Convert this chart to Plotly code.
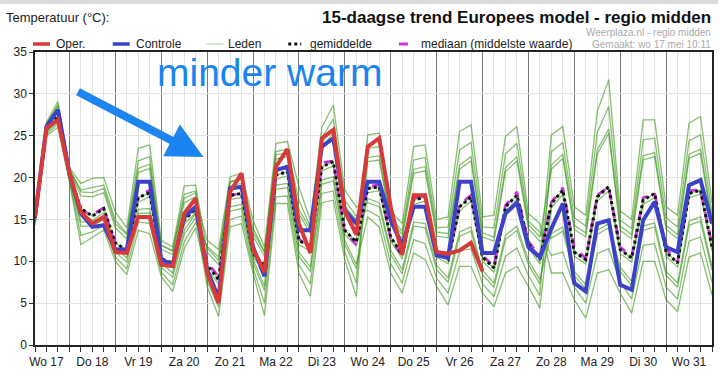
import plotly.graph_objects as go
import pandas as pd

# ---------------- data ----------------
start = "2023-05-17 06:00"
end = "2023-06-01 00:00"
day_labels = ["Wo 17", "Do 18", "Vr 19", "Za 20", "Zo 21", "Ma 22", "Di 23", "Wo 24",
              "Do 25", "Vr 26", "Za 27", "Zo 28", "Ma 29", "Di 30", "Wo 31"]

oper = [15.3, 25.9, 26.9, 20.5, 15.9, 14.5, 15.3, 11.1, 11.0, 15.3,
        15.3, 9.6, 9.4, 15.7, 17.5, 8.6, 5.0, 18.3, 20.5, 11.5,
        8.7, 21.3, 23.4, 14.5, 11.0, 24.7, 25.7, 16.0, 13.2, 23.7,
        24.7, 16.5, 10.8, 17.9, 17.9, 11.1, 10.9, 11.3, 12.2, 8.8]

controle = [15.3, 26.1, 28.1, 20.5, 15.7, 14.1, 14.3, 11.4, 11.4, 19.5,
            19.5, 10.2, 9.6, 15.3, 16.5, 9.0, 5.6, 18.7, 18.9, 11.7,
            8.2, 20.9, 21.3, 13.7, 13.7, 23.7, 24.7, 16.1, 14.5, 19.5,
            19.5, 14.9, 11.9, 16.5, 16.5, 10.7, 10.4, 19.5, 19.5, 11.0,
            11.0, 15.7, 17.0, 11.7, 10.5, 13.9, 16.9, 7.4, 6.4, 14.5,
            14.9, 7.2, 6.6, 14.9, 17.1, 11.7, 11.1, 19.1, 19.7, 14.5]

gemiddelde = [15.2, 25.8, 27.3, 20.3, 16.3, 15.4, 16.3, 12.2, 11.3, 17.6,
              18.2, 10.3, 9.8, 14.9, 16.3, 9.6, 7.8, 17.9, 18.1, 11.0,
              9.4, 20.3, 20.7, 12.5, 11.7, 21.3, 21.9, 13.7, 12.3, 18.7,
              18.9, 12.9, 10.8, 17.3, 17.7, 11.0, 10.2, 16.5, 17.7, 10.5,
              9.2, 16.5, 17.9, 12.1, 10.2, 16.9, 18.5, 11.1, 10.2, 17.7,
              18.9, 11.4, 10.4, 17.3, 18.1, 11.1, 9.8, 18.1, 18.5, 11.7]

mediaan = [15.2, 25.9, 27.0, 20.4, 16.0, 15.6, 16.4, 12.0, 11.2, 17.8,
           18.5, 10.2, 9.6, 15.1, 16.6, 9.9, 8.2, 17.7, 18.3, 11.2,
           9.3, 20.5, 21.2, 12.7, 11.5, 21.8, 22.0, 13.5, 12.0, 18.9,
           19.2, 12.7, 10.6, 17.5, 17.9, 11.2, 10.3, 16.8, 17.9, 10.7,
           9.4, 16.7, 18.3, 12.4, 10.6, 17.1, 18.8, 11.6, 10.4, 17.9,
           18.9, 11.7, 10.6, 17.6, 18.2, 11.5, 10.0, 18.4, 18.6, 12.0]

lid_01 = [15.8, 26.6, 29.1, 21.2, 19.3, 19.9, 20.0, 15.9, 14.0, 23.5, 23.9, 12.5, 11.7, 19.0, 19.1,
          11.1, 9.6, 19.0, 19.3, 13.0, 10.6, 22.2, 22.5, 15.7, 13.3, 23.7, 25.3, 16.1, 14.4, 21.9,
          22.1, 14.5, 12.7, 20.5, 20.8, 13.0, 12.8, 21.0, 22.0, 12.9, 12.4, 20.7, 22.0, 13.9, 12.4,
          12.8, 13.6, 8.3, 6.7, 13.2, 14.0, 8.8, 7.1, 13.7, 14.1, 8.3, 6.9, 14.3, 14.8, 8.9]
lid_02 = [14.3, 25.0, 26.0, 19.5, 12.0, 12.9, 13.7, 10.0, 8.4, 13.7, 13.3, 8.2, 6.4, 11.5, 14.0,
          8.3, 5.6, 16.0, 16.3, 9.8, 6.5, 18.6, 18.8, 10.6, 8.8, 19.2, 19.6, 12.0, 9.1, 18.7,
          18.9, 12.9, 10.8, 17.3, 17.7, 11.0, 10.2, 16.5, 17.7, 10.5, 9.2, 16.5, 17.9, 12.1, 10.2,
          25.1, 26.1, 16.5, 15.5, 27.9, 31.7, 16.0, 15.0, 26.9, 26.9, 16.5, 15.5, 26.5, 27.3, 17.0]
lid_03 = [15.5, 26.2, 28.2, 20.8, 17.8, 17.7, 18.2, 14.0, 12.7, 20.6, 21.1, 11.4, 10.8, 17.0, 17.7,
          12.5, 11.4, 20.1, 20.5, 14.9, 11.7, 24.1, 24.3, 18.9, 14.9, 26.0, 28.7, 18.5, 16.5, 17.0,
          16.5, 10.8, 8.5, 14.2, 14.0, 9.0, 7.5, 13.0, 13.6, 8.4, 6.9, 12.6, 13.7, 9.6, 7.3,
          16.9, 18.5, 11.1, 10.2, 17.7, 18.9, 11.4, 10.4, 17.3, 18.1, 11.1, 9.8, 18.1, 18.5, 11.7]
lid_04 = [14.8, 25.4, 26.7, 19.9, 14.2, 14.2, 15.0, 11.1, 9.9, 15.7, 15.8, 9.3, 8.1, 13.2, 15.2,
          7.0, 3.4, 14.1, 14.5, 8.6, 3.5, 16.9, 16.9, 8.6, 5.8, 17.0, 17.3, 10.2, 5.8, 22.4,
          22.6, 15.0, 13.2, 21.0, 21.3, 13.5, 13.3, 21.5, 22.5, 13.4, 12.9, 21.2, 22.5, 14.4, 12.9,
          21.0, 22.3, 13.8, 12.9, 22.8, 25.3, 13.7, 12.7, 22.1, 22.5, 13.8, 12.7, 22.3, 22.9, 14.4]
lid_05 = [15.2, 25.8, 27.3, 20.3, 16.3, 15.4, 16.3, 12.2, 11.3, 17.6, 18.2, 10.3, 9.8, 14.9, 16.3,
          9.6, 7.8, 17.9, 18.1, 11.0, 9.4, 20.3, 20.7, 12.5, 11.7, 21.3, 21.9, 13.7, 12.3, 25.1,
          25.3, 16.0, 14.5, 23.7, 23.9, 15.0, 15.3, 25.5, 26.3, 15.3, 15.5, 24.9, 26.1, 15.7, 14.5,
          8.6, 8.6, 5.4, 3.2, 8.6, 9.0, 6.2, 3.8, 10.0, 10.0, 5.4, 4.0, 10.5, 11.0, 6.0]
lid_06 = [15.6, 26.4, 28.7, 21.0, 18.3, 18.2, 18.7, 14.5, 13.2, 21.1, 21.6, 11.9, 11.3, 17.5, 18.2,
          8.8, 6.1, 16.5, 16.8, 10.3, 7.0, 19.1, 19.3, 11.1, 9.3, 19.7, 20.1, 12.5, 9.6, 15.3,
          14.1, 8.6, 6.2, 11.0, 10.2, 7.0, 4.8, 9.4, 9.4, 6.2, 4.6, 8.6, 9.4, 7.0, 4.4,
          16.4, 18.0, 10.6, 9.7, 17.2, 18.4, 10.9, 9.9, 16.8, 17.6, 10.6, 9.3, 17.6, 18.0, 11.2]
lid_07 = [15.0, 25.6, 27.2, 20.1, 14.7, 14.7, 15.5, 11.6, 10.4, 16.2, 16.3, 9.8, 8.6, 13.7, 15.7,
          11.6, 10.1, 19.5, 19.8, 13.5, 11.1, 22.7, 23.0, 16.2, 13.8, 24.2, 25.8, 16.6, 14.9, 18.2,
          18.4, 12.4, 10.3, 16.8, 17.2, 10.5, 9.7, 16.0, 17.2, 10.0, 8.7, 16.0, 17.4, 11.6, 9.7,
          21.5, 22.8, 14.3, 13.4, 23.3, 25.8, 14.2, 13.2, 22.6, 23.0, 14.3, 13.2, 22.8, 23.4, 14.9]
lid_08 = [14.9, 25.5, 27.0, 20.0, 15.8, 14.9, 15.8, 11.7, 10.8, 17.1, 17.7, 9.8, 9.3, 14.4, 15.8,
          9.1, 7.3, 17.4, 17.6, 10.5, 8.9, 19.8, 20.2, 12.0, 11.2, 20.8, 21.4, 13.2, 11.8, 17.5,
          17.0, 11.3, 9.0, 14.7, 14.5, 9.5, 8.0, 13.5, 14.1, 8.9, 7.4, 13.1, 14.2, 10.1, 7.8,
          13.3, 14.1, 8.8, 7.2, 13.7, 14.5, 9.3, 7.6, 14.2, 14.6, 8.8, 7.4, 14.8, 15.3, 9.4]
lid_09 = [15.7, 26.4, 28.6, 21.0, 18.5, 18.8, 19.1, 14.9, 13.3, 22.0, 22.5, 11.9, 11.2, 18.0, 18.4,
          7.6, 4.5, 15.0, 15.4, 9.2, 5.0, 17.7, 17.8, 9.6, 7.3, 18.1, 18.4, 11.1, 7.4, 23.5,
          23.7, 15.3, 13.6, 22.1, 22.4, 14.0, 14.1, 23.3, 24.2, 14.1, 14.0, 22.8, 24.1, 14.8, 13.5,
          10.7, 11.1, 6.9, 5.0, 10.9, 11.5, 7.5, 5.5, 11.9, 12.1, 6.9, 5.5, 12.4, 12.9, 7.5]
lid_10 = [14.6, 25.2, 26.4, 19.7, 13.1, 13.5, 14.3, 10.5, 9.1, 14.7, 14.5, 8.7, 7.2, 12.3, 14.6,
          11.8, 10.5, 19.5, 19.9, 14.0, 11.1, 23.1, 23.4, 17.3, 14.1, 24.8, 27.0, 17.3, 15.4, 16.1,
          15.3, 9.7, 7.4, 12.6, 12.1, 8.0, 6.2, 11.2, 11.5, 7.3, 5.8, 10.6, 11.6, 8.3, 5.9,
          23.1, 24.2, 15.2, 14.2, 25.4, 28.5, 14.9, 13.9, 24.5, 24.7, 15.2, 14.1, 24.4, 25.1, 15.7]

leden = [lid_01, lid_02, lid_03, lid_04, lid_05, lid_06, lid_07, lid_08, lid_09, lid_10]

# ---------------- figure ----------------
times = pd.date_range(start, periods=len(controle), freq="6h")
noons = pd.date_range("2023-05-17 12:00", periods=len(day_labels), freq="D")
midnights = pd.date_range("2023-05-18 00:00", periods=len(day_labels) - 1, freq="D")

FONT = "Liberation Sans, Arial, sans-serif"
RED = "#d63a3a"
BLUE = "#3b42c8"
GREEN = "rgba(55,150,20,0.6)"
MAGENTA = "#cc33dd"
ARROW_BLUE = "#1b84f0"

fig = go.Figure()
for lid in leden:
    fig.add_trace(go.Scatter(x=times, y=lid, mode="lines",
                             line=dict(color=GREEN, width=1.3),
                             showlegend=False, hoverinfo="skip"))
fig.add_trace(go.Scatter(x=times, y=mediaan, mode="lines", name="mediaan",
                         line=dict(color=MAGENTA, width=2.5, dash="dash"), showlegend=False))
fig.add_trace(go.Scatter(x=times, y=gemiddelde, mode="lines", name="gemiddelde",
                         line=dict(color="#111111", width=3, dash="dot"), showlegend=False))
fig.add_trace(go.Scatter(x=times, y=controle, mode="lines", name="Controle",
                         line=dict(color=BLUE, width=4), showlegend=False))
# Oper. is drawn on the overlaying x axis (same range) so it sits on top and carries the day labels
fig.add_trace(go.Scatter(x=times[:len(oper)], y=oper, mode="lines", name="Oper.",
                         xaxis="x2", line=dict(color=RED, width=4), showlegend=False))

L, R, T, B = 35, 6, 52, 41
W, H = 720, 386
PW, PH = W - L - R, H - T - B


def px(xp):
    return (xp - L) / PW


def py(yp):
    return (H - B - yp) / PH


annotations = [
    dict(text="Temperatuur (°C):", x=px(4), y=py(17), xanchor="left", yanchor="middle",
         font=dict(size=13, color="#222")),
    dict(text="<b>15-daagse trend Europees model - regio midden</b>", x=px(715), y=py(17),
         xanchor="right", yanchor="middle", font=dict(size=17, color="#111")),
    dict(text="Weerplaza.nl - regio midden", x=px(715), y=py(33), xanchor="right",
         yanchor="middle", font=dict(size=10, color="#aaaaaa")),
    dict(text="Gemaakt: wo 17 mei 10:11", x=px(715), y=py(44), xanchor="right",
         yanchor="middle", font=dict(size=10, color="#aaaaaa")),
    dict(text="minder warm", x=px(270), y=py(73), xanchor="center", yanchor="middle",
         font=dict(size=39, color=ARROW_BLUE)),
    dict(text="", x=px(204), y=py(157), showarrow=True, ax=77 - 204, ay=91 - 157,
         axref="pixel", ayref="pixel", arrowhead=2, arrowsize=0.9, arrowwidth=8,
         arrowcolor=ARROW_BLUE),
]

legend_items = [
    ("Oper.", 33, 50, 54, dict(color=RED, width=3.5)),
    ("Controle", 113, 130, 134, dict(color=BLUE, width=3.5)),
    ("Leden", 207, 224, 227, dict(color="#c4e0bc", width=1.5)),
    ("gemiddelde", 289, 302, 309, dict(color="#111", width=3, dash="dot")),
    ("mediaan (middelste waarde)", 400, 413, 420, dict(color=MAGENTA, width=3, dash="dash")),
]
shapes = [dict(type="rect", xref="paper", yref="paper", x0=px(0), x1=px(W), y0=py(4), y1=py(0),
               fillcolor="#dcdcdc", line=dict(width=0))]
for label, x0, x1, xt, ln in legend_items:
    shapes.append(dict(type="line", xref="paper", yref="paper", x0=px(x0), x1=px(x1),
                       y0=py(44), y1=py(44), line=ln))
    annotations.append(dict(text=label, x=px(xt), y=py(44), xanchor="left", yanchor="middle",
                            font=dict(size=12, color="#222")))

for a in annotations:
    a.setdefault("xref", "paper")
    a.setdefault("yref", "paper")
    a.setdefault("showarrow", False)

fig.update_layout(
    width=W, height=H,
    margin=dict(l=L, r=R, t=T, b=B, pad=0),
    paper_bgcolor="white", plot_bgcolor="rgba(0,0,0,0)",
    font=dict(family=FONT, size=12, color="#222"),
    showlegend=False,
    annotations=annotations,
    shapes=shapes,
    xaxis=dict(
        type="date", range=[start, end],
        tickmode="array", tickvals=midnights, ticktext=[""] * len(midnights),
        ticks="outside", ticklen=5, tickcolor="#333", tickwidth=1,
        showgrid=True, gridcolor="#7a7a7a", gridwidth=1.2,
        minor=dict(dtick=6 * 3600 * 1000, tick0=start, ticks="outside", ticklen=5,
                   tickcolor="#333", showgrid=True, gridcolor="#e2e2e2", gridwidth=1),
        showline=True, linecolor="#222", linewidth=2, mirror=True,
        zeroline=False,
    ),
    xaxis2=dict(
        type="date", range=[start, end], overlaying="x", anchor="y", side="bottom",
        tickmode="array", tickvals=noons, ticktext=day_labels,
        ticks="outside", ticklen=6, tickcolor="rgba(0,0,0,0)",
        showgrid=False, showline=False, zeroline=False,
        tickfont=dict(size=12, color="#222"),
    ),
    yaxis=dict(
        range=[0, 35], tick0=0, dtick=5,
        ticks="outside", ticklen=4, tickcolor="#333",
        showgrid=True, gridcolor="#e2e2e2", gridwidth=1,
        showline=True, linecolor="#222", linewidth=1.5, mirror=True,
        zeroline=False, tickfont=dict(size=12, color="#222"),
    ),
)

fig.write_html("out.html", config={"displayModeBar": False},
               post_script="document.body.style.margin='0';document.body.style.padding='0';")
